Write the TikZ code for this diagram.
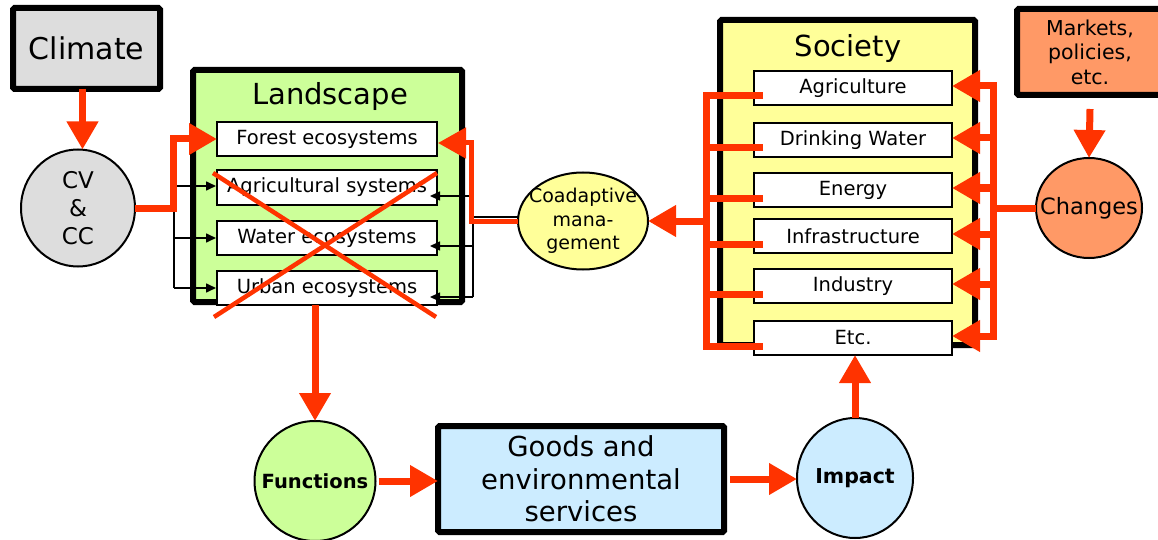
\documentclass[tikz,border=0pt]{standalone}
\usepackage{fontspec}
\setmainfont{DejaVu Sans}
\usetikzlibrary{arrows.meta,calc,shapes.geometric}
\definecolor{myred}{HTML}{FF3300}
\definecolor{cgray}{HTML}{DDDDDD}
\definecolor{cgreen}{HTML}{CCFF99}
\definecolor{cyellow}{HTML}{FFFF99}
\definecolor{corange}{HTML}{FF9966}
\definecolor{cblue}{HTML}{CCECFF}
\begin{document}
\begin{tikzpicture}[x=1pt,y=-1pt,
  bigbox/.style={draw=black, line width=6pt, rectangle, inner sep=0pt, outer sep=0pt, rounded corners=1.5pt},
  inbox/.style={draw=black, line width=2pt, fill=white, rectangle, minimum height=34pt, inner sep=0pt, outer sep=0pt, font=\fontsize{19.5}{24}\selectfont},
  lbox/.style={inbox, minimum width=220pt},
  sbox/.style={inbox, minimum width=198pt},
  circ/.style={draw=black, line width=2pt, ellipse, inner sep=0pt, outer sep=0pt},
  redline/.style={draw=myred, line width=7pt},
  redarrow/.style={redline, -{Triangle[length=28pt,width=30pt]}},
  blk/.style={draw=black, line width=1.6pt},
  blkarrow/.style={blk, -{Triangle[length=10pt,width=9pt]}},
  redx/.style={draw=myred, line width=4.5pt}]
\useasboundingbox (0,0) rectangle (1158,540);

% main boxes
\node[bigbox, fill=cgray, minimum width=147pt, minimum height=81pt, font=\fontsize{30}{36}\selectfont] (climate) at (86.5,48.5) {Climate};
\node[bigbox, fill=cgreen, minimum width=269pt, minimum height=232pt] (land) at (327.5,186) {};
\node[font=\fontsize{29}{34}\selectfont] (landt) at (330,97) {Landscape};
\node[bigbox, fill=cyellow, minimum width=255pt, minimum height=325pt] (soc) at (847.5,182.5) {};
\node[font=\fontsize{29}{34}\selectfont] (soct) at (848,49) {Society};
\node[bigbox, fill=corange, minimum width=146pt, minimum height=86pt] (mkt) at (1090,52) {};
\node[font=\fontsize{20.5}{24.5}\selectfont, align=center] (mktt) at (1090,52) {Markets,\\policies,\\etc.};
\node[bigbox, fill=cblue, minimum width=286pt, minimum height=106pt, align=center, font=\fontsize{27.5}{32.5}\selectfont] (goods) at (581,479) {Goods and\\environmental\\services};

% landscape inner boxes
\node[lbox] (forest) at (327,139) {Forest ecosystems};
\node[lbox] (agric) at (327,187.5) {Agricultural systems};
\node[lbox] (water) at (327,238) {Water ecosystems};
\node[lbox] (urban) at (327,288) {Urban ecosystems};

% society inner boxes
\node[sbox] (agri) at (853,88) {Agriculture};
\node[sbox] (dw) at (853,140) {Drinking Water};
\node[sbox] (en) at (853,190) {Energy};
\node[sbox] (inf) at (853,236) {Infrastructure};
\node[sbox] (ind) at (853,286) {Industry};
\node[sbox] (etcb) at (853,338) {Etc.};

% circles
\node[circ, fill=cgray, minimum width=114pt, minimum height=117pt,
  label={[font=\fontsize{23}{28}\selectfont, align=center]center:CV\\\&\\CC}] (cv) at (78,208) {};
\node[circ, fill=cyellow, minimum width=130pt, minimum height=97pt,
  label={[font=\fontsize{19}{23.5}\selectfont, align=center]center:Coadaptive\\mana-\\gement}] (coad) at (583,221) {};
\node[circ, fill=corange, minimum width=106pt, minimum height=100pt,
  label={[font=\fontsize{22.5}{26}\selectfont]center:Changes}] (changes) at (1089,208) {};
\node[circ, fill=cgreen, minimum width=121pt, minimum height=120pt,
  label={[font=\bfseries\fontsize{19.5}{22}\selectfont]center:Functions}] (functions) at (315,481) {};
\node[circ, fill=cblue, minimum width=116pt, minimum height=120pt,
  label={[font=\bfseries\fontsize{20.5}{24}\selectfont]center:Impact}] (impact) at (855,478) {};

% black thin connectors (left)
\draw[blk] ($(agric.west)+(-43,-1.5)$) -- ($(urban.west)+(-43,0)$);
\draw[blkarrow] ($(agric.west)+(-43,-1.5)$) -- ($(agric.west)+(-1,-1.5)$);
\draw[blkarrow] ($(water.west)+(-43,0)$) -- ($(water.west)+(-1,0)$);
\draw[blkarrow] ($(urban.west)+(-43,0)$) -- ($(urban.west)+(-1,0)$);

% black thin connectors (right)
\draw[blk] ($(coad.west)+(0,-4)$) -- ($(coad.west)+(-45,-4)$);
\draw[blk] ($(agric.east)+(36,8.5)$) -- ($(urban.east)+(36,9)$);
\draw[blkarrow] ($(agric.east)+(36,8.5)$) -- ($(agric.east)+(-7,8.5)$);
\draw[blkarrow] ($(water.east)+(36,8)$) -- ($(water.east)+(-7,8)$);
\draw[blkarrow] ($(urban.east)+(36,9)$) -- ($(urban.east)+(-7,9)$);

% red connectors
\coordinate (lx) at (173,139);
\coordinate (ca) at ($(climate.south)+(-4,0)$);
\draw[redarrow] (ca) -- (ca |- cv.north);
\draw[redarrow] (cv.east) -| (lx) -- (forest.west);
\draw[redarrow, line width=5pt] (coad.west) -| ($(forest.east)+(34,4)$) -- ($(forest.east)+(1,4)$);

% society left bracket
\coordinate (lbx) at (706,346);
\draw[redline] ($(agri.west)+(9,8)$) -| (lbx) -- ($(etcb.west)+(9,8)$);
\draw[redline] ($(dw.west)+(9,8)$) -- ($(dw.west)+(-47,8)$);
\draw[redline] ($(en.west)+(9,8)$) -- ($(en.west)+(-47,8)$);
\draw[redline] ($(inf.west)+(9,8)$) -- ($(inf.west)+(-47,8)$);
\draw[redline] ($(ind.west)+(9,8)$) -- ($(ind.west)+(-47,8)$);
\draw[redarrow] (lbx |- coad.east) -- (coad.east);

% society right bracket
\coordinate (rbx) at (993,0);
\coordinate (rtop) at ($(agri.east)+(0,-2)$);
\coordinate (rbot) at ($(etcb.east)+(0,-2)$);
\draw[redline, line cap=rect] (rbx |- rtop) -- (rbx |- rbot);
\foreach \b in {agri,dw,en,inf,ind,etcb}{
  \coordinate (tmp) at ($(\b.east)+(0,-2)$);
  \draw[redarrow] (rbx |- tmp) -- (tmp);
}
\draw[redline] (changes.west) -- (rbx |- changes.west);

% markets -> changes
\coordinate (mk) at (1090,109);
\draw[redarrow] (mk) -- (changes.north);

% bottom flow
\draw[redarrow] (urban.south -| functions.north) -- (functions.north);
\draw[redarrow, shorten <=3pt] (functions.east) -- (functions.east -| goods.west);
\draw[redarrow, shorten <=6pt] (goods.east) -- (goods.east -| impact.west);
\draw[redarrow] (impact.north) -- (impact.north |- etcb.south);

% red cross over landscape systems
\draw[redx] (213,173) -- (436,317);
\draw[redx] (437,173) -- (214,317);
\end{tikzpicture}
\end{document}
